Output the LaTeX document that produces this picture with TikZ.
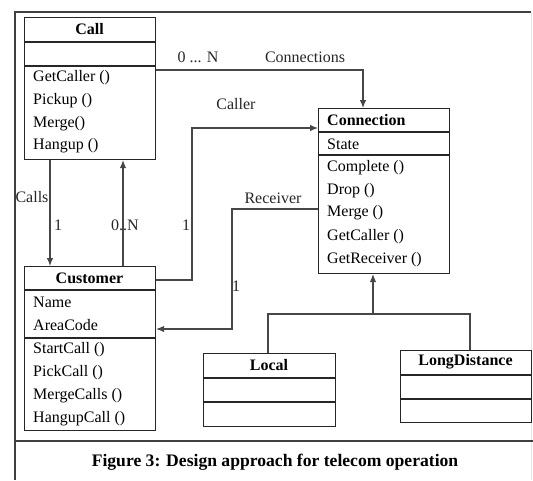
\documentclass[tikz,border=0pt]{standalone}
\usepackage{fontspec}
\setmainfont{Liberation Serif}
\usetikzlibrary{arrows.meta}
\begin{document}
\begin{tikzpicture}[x=1pt,y=-1pt,
  umlbox/.style={draw=black!85, line width=1.1pt, inner sep=0pt, anchor=north west},
  divider/.style={draw=black!85, line width=1.1pt},
  member/.style={anchor=west, inner sep=0pt, font=\fontsize{16}{19}\selectfont},
  ctitle/.style={inner sep=0pt, font=\bfseries\fontsize{16}{19}\selectfont},
  link/.style={draw=black!72, line width=1.1pt},
  arr/.style={link, -{Latex[length=8pt,width=6.5pt]}},
  lbl/.style={inner sep=0pt, font=\fontsize{16}{19}\selectfont, text=black!85}]
\useasboundingbox (0,0) rectangle (533,480);
\fill[white] (0,0) rectangle (533,480);
% frame
\draw[black!75, line width=1.1pt] (15,480) -- (15,12) -- (531,12);
\draw[black!10, line width=0.8pt] (531,12) -- (531,480);
\draw[black!75, line width=1.1pt] (15,441) -- (533,441);
\node[inner sep=0pt, font=\bfseries\fontsize{17.6}{20}\selectfont] (cap) at (275,462) {Figure 3: Design approach for telecom operation};
% Call
\node[umlbox, minimum width=131pt, minimum height=142pt] (call) at (24,17) {};
\draw[divider] (call.west |- 0,42) -- (call.east |- 0,42);
\draw[divider] (call.west |- 0,66) -- (call.east |- 0,66);
\node[ctitle] (callT) at (89.5,29) {Call};
\node[member] (callM1) at (33,78) {GetCaller ()};
\node[member] (callM2) at (33,101) {Pickup ()};
\node[member] (callM3) at (33,124) {Merge()};
\node[member] (callM4) at (33,146) {Hangup ()};
% Connection
\node[umlbox, minimum width=131pt, minimum height=165pt] (conn) at (318,108) {};
\draw[divider] (conn.west |- 0,132) -- (conn.east |- 0,132);
\draw[divider] (conn.west |- 0,155) -- (conn.east |- 0,155);
\node[ctitle, anchor=west] (connT) at (327,120) {Connection};
\node[member] (connA1) at (327,144) {State};
\node[member] (connM1) at (327,168) {Complete ()};
\node[member] (connM2) at (327,191) {Drop ()};
\node[member] (connM3) at (327,213) {Merge ()};
\node[member] (connM4) at (327,237) {GetCaller ()};
\node[member] (connM5) at (327,260) {GetReceiver ()};
% Customer
\node[umlbox, minimum width=131pt, minimum height=164pt] (cust) at (24,266) {};
\draw[divider] (cust.west |- 0,290) -- (cust.east |- 0,290);
\draw[divider] (cust.west |- 0,338) -- (cust.east |- 0,338);
\node[ctitle] (custT) at (89.5,278) {Customer};
\node[member] (custA1) at (33,302) {Name};
\node[member] (custA2) at (33,325) {AreaCode};
\node[member] (custM1) at (33,350) {StartCall ()};
\node[member] (custM2) at (33,373) {PickCall ()};
\node[member] (custM3) at (33,396) {MergeCalls ()};
\node[member] (custM4) at (33,419) {HangupCall ()};
% Local
\node[umlbox, minimum width=132pt, minimum height=73pt] (local) at (203,353) {};
\draw[divider] (local.west |- 0,378) -- (local.east |- 0,378);
\draw[divider] (local.west |- 0,402) -- (local.east |- 0,402);
\node[ctitle] (localT) at (269,365) {Local};
% LongDistance
\node[umlbox, minimum width=131pt, minimum height=72pt] (ld) at (400,350) {};
\draw[divider] (ld.west |- 0,375) -- (ld.east |- 0,375);
\draw[divider] (ld.west |- 0,399) -- (ld.east |- 0,399);
\node[ctitle] (ldT) at (465.5,362) {LongDistance};
% connectors
\coordinate (bendConn) at (363,70);
\draw[arr] (call.east |- bendConn) -- (bendConn) -- (conn.north -| bendConn);
\coordinate (callsX) at (50,0);
\draw[arr] (call.south -| callsX) -- (cust.north -| callsX);
\coordinate (backX) at (123,0);
\draw[arr] (cust.north -| backX) -- (call.south -| backX);
\coordinate (callerA) at (192,280);
\coordinate (callerB) at (192,128);
\draw[arr] (cust.east |- callerA) -- (callerA) -- (callerB) -- (conn.west |- callerB);
\coordinate (recvA) at (232,209);
\coordinate (recvB) at (232,329);
\draw[arr] (conn.west |- recvA) -- (recvA) -- (recvB) -- (cust.east |- recvB);
\coordinate (genL) at (268,314);
\coordinate (genR) at (470,314);
\coordinate (genM) at (373,314);
\draw[link] (local.north -| genL) -- (genL) -- (genR) -- (ld.north -| genR);
\draw[arr] (genM) -- (conn.south -| genM);
% labels
\node[lbl] (l0N) at (198,57) {0 ... N};
\node[lbl] (lConns) at (305,57) {Connections};
\node[lbl] (lCaller) at (236,104) {Caller};
\node[lbl] (lCaller1) at (186,225) {1};
\node[lbl] (lRecv) at (273,198) {Receiver};
\node[lbl] (lRecv1) at (236,286) {1};
\node[lbl] (lCalls) at (32,197) {Calls};
\node[lbl] (lCalls1) at (58,225) {1};
\node[lbl] (lBack) at (125,225) {0..N};
\end{tikzpicture}
\end{document}
